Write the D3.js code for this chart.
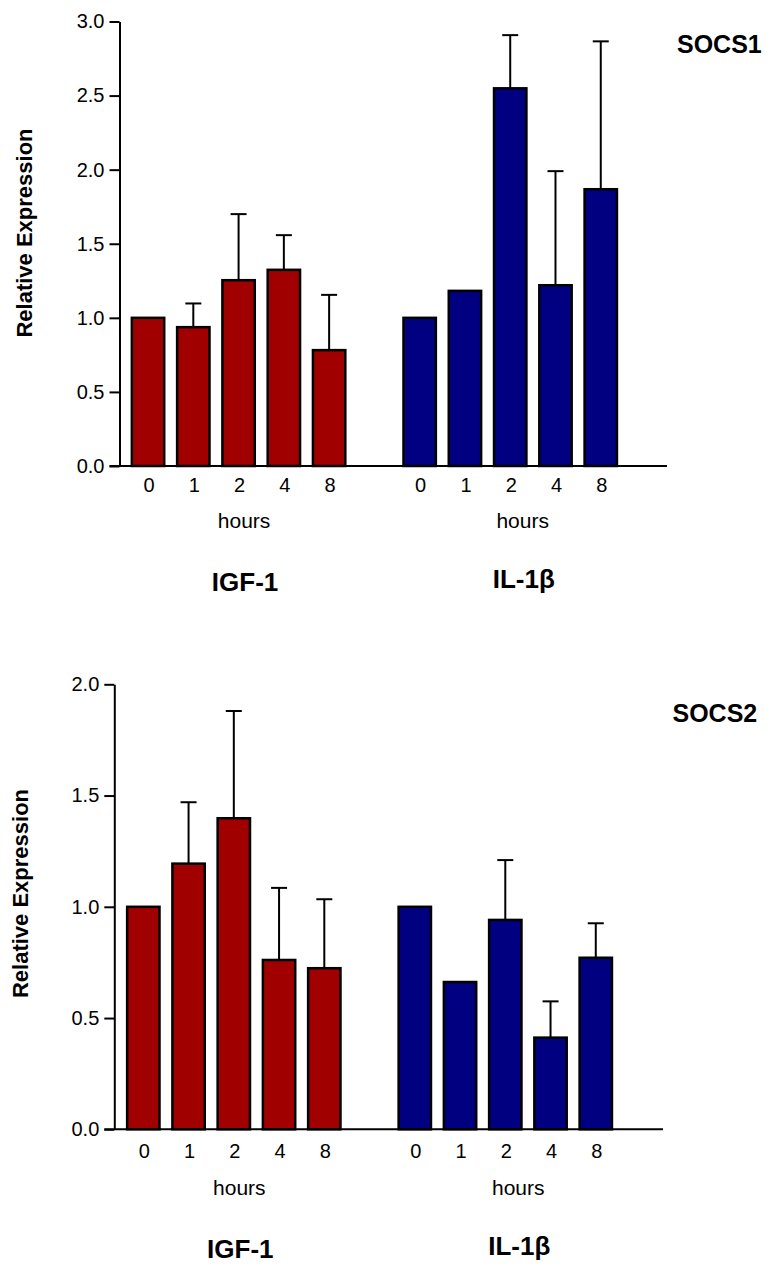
<!DOCTYPE html>
<html>
<head>
<meta charset="utf-8">
<script src="https://cdn.jsdelivr.net/npm/d3@7"></script>
<style>
  html, body { margin: 0; padding: 0; background: #fff; }
  svg { display: block; }
  text { font-family: "Liberation Sans", Arial, Helvetica, sans-serif; fill: #000; }
</style>
</head>
<body>
<svg id="chart" width="771" height="1266"></svg>
<script>
// Time points (hours after stimulation) and the two stimuli
const hours = ["0", "1", "2", "4", "8"];
const treatments = ["IGF-1", "IL-1β"];
const treatmentColors = ["#a00000", "#000080"];

// SOCS1 relative expression: means and upper error (SEM); null = no error bar
const socs1IGF1 = [1.00, 0.937, 1.254, 1.324, 0.782];
const socs1IGF1Err = [null, 0.160, 0.446, 0.234, 0.373];
const socs1IL1b = [1.00, 1.182, 2.549, 1.220, 1.868];
const socs1IL1bErr = [null, null, 0.359, 0.770, 0.998];
const socs1Ticks = [0, 0.5, 1.0, 1.5, 2.0, 2.5, 3.0];

// SOCS2 relative expression
const socs2IGF1 = [1.00, 1.194, 1.398, 0.761, 0.724];
const socs2IGF1Err = [null, 0.276, 0.482, 0.324, 0.310];
const socs2IL1b = [1.00, 0.662, 0.941, 0.412, 0.771];
const socs2IL1bErr = [null, null, 0.269, 0.163, 0.155];
const socs2Ticks = [0, 0.5, 1.0, 1.5, 2.0];

const svg = d3.select("#chart");
const fmt = d3.format(".1f");

function drawPanel(opt) {
  const g = svg.append("g");

  // one slot per bar, plus an empty slot separating the two stimuli
  const slots = [];
  treatments.forEach((t, ti) => {
    if (ti > 0) slots.push("gap");
    hours.forEach(h => slots.push(t + "|" + h));
  });
  const x = d3.scaleBand().domain(slots).range([opt.xStart, opt.xEnd]).padding(0);
  const barW = x.step() * 0.715;

  const y = d3.scaleLinear().domain([0, d3.max(opt.ticks)]).range([opt.yBase, opt.yTop]);

  // y axis
  const yAxis = d3.axisLeft(y)
    .tickValues(opt.ticks)
    .tickFormat(fmt)
    .tickSize(10)
    .tickSizeOuter(0)
    .tickPadding(5);
  const ya = g.append("g").attr("transform", `translate(${opt.axisX},0)`).call(yAxis);
  ya.select(".domain").attr("stroke", "#000").attr("stroke-width", 2);
  ya.selectAll(".tick line").attr("stroke", "#000").attr("stroke-width", 2);
  ya.selectAll(".tick text")
    .attr("font-size", 20)
    .attr("fill", "#000")
    .style("font-family", '"Liberation Sans", Arial, sans-serif');

  // bars and error bars
  opt.series.forEach((s, si) => {
    const t = treatments[si];
    const rows = hours.map((h, i) => ({ key: t + "|" + h, v: s.values[i], e: s.err[i] }));
    const bg = g.append("g");
    bg.selectAll("line.err-v")
      .data(rows.filter(d => d.e != null))
      .join("line")
      .attr("class", "err-v")
      .attr("x1", d => x(d.key) + x.bandwidth() / 2)
      .attr("x2", d => x(d.key) + x.bandwidth() / 2)
      .attr("y1", d => y(d.v))
      .attr("y2", d => y(d.v + d.e))
      .attr("stroke", "#000").attr("stroke-width", 2);
    bg.selectAll("line.err-cap")
      .data(rows.filter(d => d.e != null))
      .join("line")
      .attr("class", "err-cap")
      .attr("x1", d => x(d.key) + x.bandwidth() / 2 - 8)
      .attr("x2", d => x(d.key) + x.bandwidth() / 2 + 8)
      .attr("y1", d => y(d.v + d.e))
      .attr("y2", d => y(d.v + d.e))
      .attr("stroke", "#000").attr("stroke-width", 2);
    bg.selectAll("rect")
      .data(rows)
      .join("rect")
      .attr("x", d => x(d.key) + (x.bandwidth() - barW) / 2)
      .attr("width", barW)
      .attr("y", d => y(d.v))
      .attr("height", d => y(0) - y(d.v))
      .attr("fill", treatmentColors[si])
      .attr("stroke", "#000")
      .attr("stroke-width", 2.5);

    // hour labels under each bar
    bg.selectAll("text.hr")
      .data(rows)
      .join("text")
      .attr("class", "hr")
      .attr("x", d => x(d.key) + x.bandwidth() / 2 + 1)
      .attr("y", opt.yBase + opt.hourDy)
      .attr("text-anchor", "middle")
      .attr("font-size", 20)
      .text(d => d.key.split("|")[1]);

    const cx = (x(t + "|" + hours[0]) + x(t + "|" + hours[hours.length - 1]) + x.bandwidth()) / 2
      + opt.labelShift[si];
    g.append("text")
      .attr("x", cx)
      .attr("y", opt.yBase + opt.unitDy)
      .attr("text-anchor", "middle")
      .attr("font-size", 21)
      .text("hours");
    g.append("text")
      .attr("x", cx + 1)
      .attr("y", opt.yBase + opt.titleDy + opt.titleShift[si])
      .attr("text-anchor", "middle")
      .attr("font-size", 26)
      .attr("font-weight", "bold")
      .text(t);
  });

  // baseline (x axis)
  g.append("line")
    .attr("x1", opt.axisX - 10).attr("x2", opt.axisEnd)
    .attr("y1", y(0)).attr("y2", y(0))
    .attr("stroke", "#000").attr("stroke-width", 2);

  // y axis title
  g.append("text")
    .attr("transform", `translate(${opt.yTitleX},${opt.yTitleY}) rotate(-90)`)
    .attr("text-anchor", "middle")
    .attr("font-size", 22)
    .attr("font-weight", "bold")
    .text("Relative Expression");

  // gene name
  g.append("text")
    .attr("x", opt.geneX).attr("y", opt.geneY)
    .attr("font-size", 25)
    .attr("font-weight", "bold")
    .text(opt.gene);
}

drawPanel({
  gene: "SOCS1",
  ticks: socs1Ticks,
  series: [
    { values: socs1IGF1, err: socs1IGF1Err },
    { values: socs1IL1b, err: socs1IL1bErr }
  ],
  yTop: 21.5, yBase: 466,
  axisX: 119.5, axisEnd: 667,
  xStart: 125.4, xEnd: 623.4,
  hourDy: 26, unitDy: 62, titleDy: 125,
  labelShift: [5.5, 12.5], titleShift: [0, -3],
  yTitleX: 32, yTitleY: 233,
  geneX: 677, geneY: 53
});

drawPanel({
  gene: "SOCS2",
  ticks: socs2Ticks,
  series: [
    { values: socs2IGF1, err: socs2IGF1Err },
    { values: socs2IL1b, err: socs2IL1bErr }
  ],
  yTop: 684.3, yBase: 1129.3,
  axisX: 114.3, axisEnd: 663,
  xStart: 120.7, xEnd: 618.4,
  hourDy: 29, unitDy: 66, titleDy: 129,
  labelShift: [5.5, 13], titleShift: [0, -3],
  yTitleX: 28, yTitleY: 893.5,
  geneX: 672.5, geneY: 721.7
});
</script>
</body>
</html>
